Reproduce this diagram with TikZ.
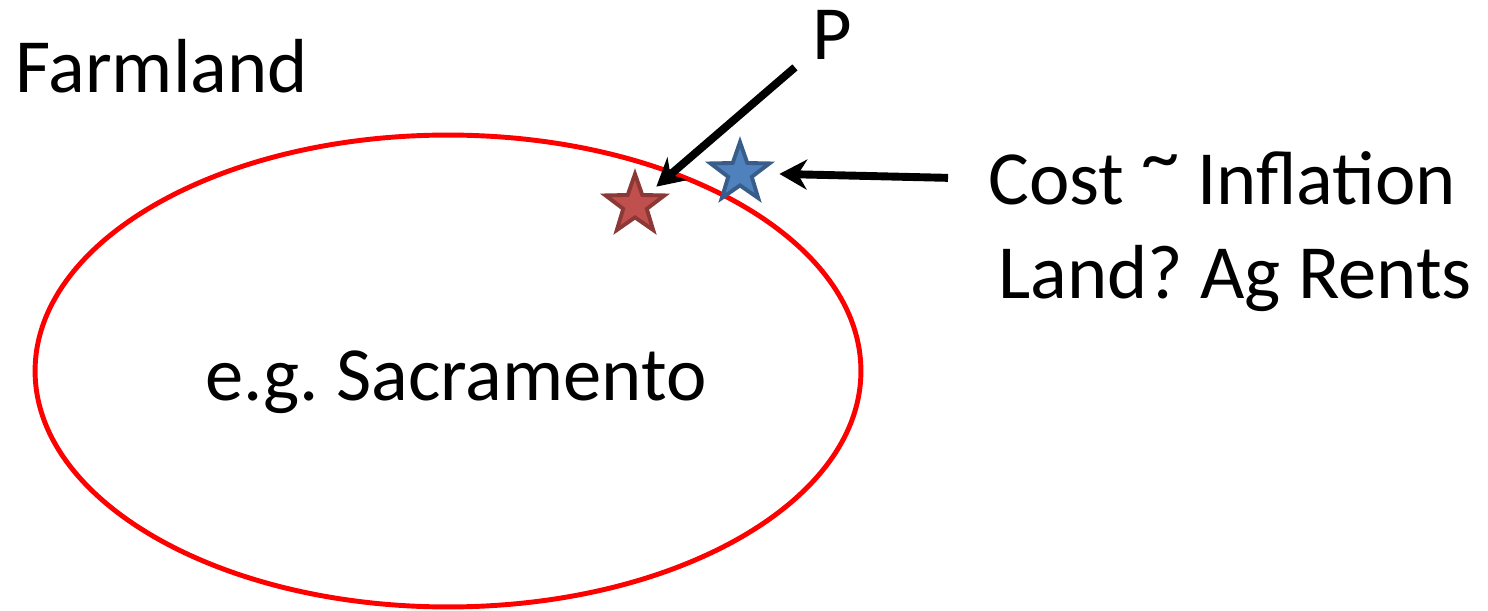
\documentclass[tikz,border=0pt]{standalone}
\usepackage{fontspec}
\setmainfont{Carlito}
\usetikzlibrary{arrows.meta,positioning,shapes.geometric}
\definecolor{starred}{HTML}{C0504D}
\definecolor{darkred}{HTML}{8C3836}
\definecolor{starblue}{HTML}{4F81BD}
\definecolor{darkblue}{HTML}{385D8A}
\frenchspacing

\begin{document}
\begin{tikzpicture}[x=0.02cm,y=-0.02cm,>={Stealth[length=0.55cm,width=0.6cm]},every node/.style={font=\fontsize{43.6}{52}\selectfont},
  lbl/.style={anchor=base west,inner sep=0pt},
  mark star/.style={star,star points=5,star point ratio=2.5,minimum size=1.24cm,inner sep=0pt,line width=2.2pt}]
\useasboundingbox (0,0) rectangle (1488,611);
\node[draw=red,line width=2.8pt,ellipse,minimum width=16.52cm,minimum height=9.44cm] (city) at (448,371) {};
\node[lbl] (sac) at (205,400) {e.g. Sacramento};
\node[lbl] (farm) at (15,93) {Farmland};
\node[mark star,fill=starred,draw=darkred] (redstar) at (635,205) {};
\node[mark star,fill=starblue,draw=darkblue] (bluestar) at (740,173) {};
\node[lbl] (p) at (812,60) {P};
\node[lbl] (cost) at (988,205) {Cost \raisebox{0.3em}{\textasciitilde} Inflation};
\node[lbl] (rents) at (998,298) {Land? Ag Rents};
\draw[->,line width=4.5pt,shorten <=0.45cm,shorten >=0.2cm] (p) -- (redstar);
\draw[->,line width=4.5pt,shorten <=0.8cm,shorten >=0.4cm] (cost.west) -- (bluestar);
\end{tikzpicture}
\end{document}
